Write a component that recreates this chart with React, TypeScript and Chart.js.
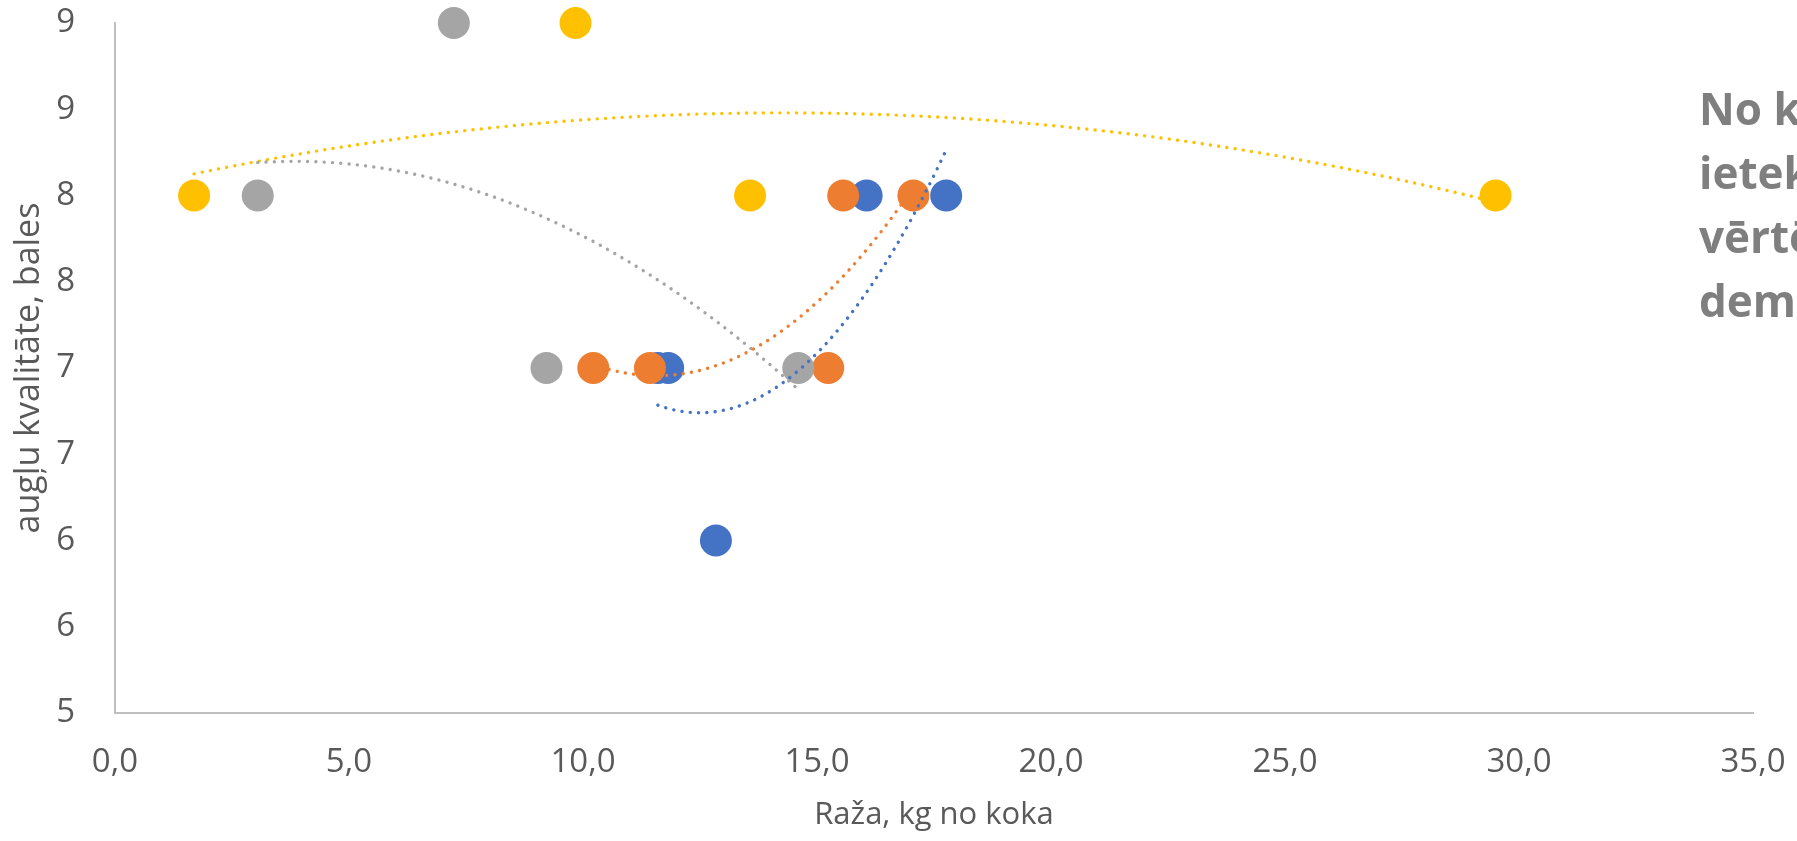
import React, { useEffect, useRef } from "react";
import { Chart, registerables } from "chart.js";

Chart.register(...registerables);

// ---- data ----
const blueX = [11.6, 11.82, 12.84, 16.06, 17.76];
const blueY = [7, 7, 6, 8, 8];
const orangeX = [10.22, 11.43, 15.24, 15.56, 17.06];
const orangeY = [7, 7, 7, 8, 8];
const grayX = [3.05, 7.24, 9.22, 14.6];
const grayY = [8, 9, 7, 7];
const yellowX = [1.69, 9.84, 13.57, 29.5];
const yellowY = [8, 9, 8, 8];

const seriesNames = ["Sērija 1", "Sērija 2", "Sērija 3", "Sērija 4"];
const seriesColors = ["#4472C4", "#ED7D31", "#A5A5A5", "#FFC000"];

const xTitle = "Raža, kg no koka";
const yTitle = "augļu kvalitāte, bales";
const sideLines = ["No k", "ietek", "vērtē", "dem"];

const X_MIN = 0, X_MAX = 35, X_STEP = 5;
const Y_MIN = 5, Y_MAX = 9, Y_STEP = 0.5;

// second order polynomial least squares (Excel-style trend line)
function polyFit2(xs: number[], ys: number[]) {
  let s0 = xs.length, s1 = 0, s2 = 0, s3 = 0, s4 = 0, t0 = 0, t1 = 0, t2 = 0;
  for (let i = 0; i < xs.length; i++) {
    const x = xs[i], y = ys[i];
    s1 += x; s2 += x * x; s3 += x * x * x; s4 += x * x * x * x;
    t0 += y; t1 += x * y; t2 += x * x * y;
  }
  const M = [
    [s0, s1, s2, t0],
    [s1, s2, s3, t1],
    [s2, s3, s4, t2],
  ];
  for (let c = 0; c < 3; c++) {
    let p = c;
    for (let r = c + 1; r < 3; r++) if (Math.abs(M[r][c]) > Math.abs(M[p][c])) p = r;
    [M[c], M[p]] = [M[p], M[c]];
    for (let r = 0; r < 3; r++) {
      if (r === c) continue;
      const f = M[r][c] / M[c][c];
      for (let k = c; k < 4; k++) M[r][k] -= f * M[c][k];
    }
  }
  return [M[0][3] / M[0][0], M[1][3] / M[1][1], M[2][3] / M[2][2]];
}

function trend(xs: number[], ys: number[]) {
  const [a, b, c] = polyFit2(xs, ys);
  const lo = Math.min(...xs), hi = Math.max(...xs);
  const n = 120;
  const pts: { x: number; y: number }[] = [];
  for (let i = 0; i <= n; i++) {
    const x = lo + ((hi - lo) * i) / n;
    pts.push({ x, y: a + b * x + c * x * x });
  }
  return pts;
}

const FONT = "'Open Sans', 'DejaVu Sans', sans-serif";

export default function App() {
  const ref = useRef<HTMLCanvasElement | null>(null);

  useEffect(() => {
    if (!ref.current) return;
    const xsAll = [blueX, orangeX, grayX, yellowX];
    const ysAll = [blueY, orangeY, grayY, yellowY];

    const pointSets = xsAll.map((xs, i) => ({
      type: "scatter" as const,
      label: seriesNames[i],
      data: xs.map((x, j) => ({ x, y: ysAll[i][j] })),
      backgroundColor: seriesColors[i],
      borderWidth: 0,
      pointRadius: 16,
      pointHoverRadius: 16,
      pointBorderWidth: 0,
      order: 4 - i,
      clip: false as const,
    }));

    const trendSets = xsAll.map((xs, i) => ({
      type: "scatter" as const,
      label: seriesNames[i] + " trend",
      data: trend(xs, ysAll[i]),
      showLine: true,
      borderColor: seriesColors[i],
      backgroundColor: seriesColors[i],
      borderWidth: 3.4,
      borderDash: [0.01, 8.3],
      borderCapStyle: "round" as const,
      pointRadius: 0,
      pointHoverRadius: 0,
      tension: 0,
      order: 0,
      clip: false as const,
    }));

    const chart = new Chart(ref.current, {
      type: "scatter",
      data: { datasets: [...trendSets, ...pointSets] as any },
      options: {
        responsive: false,
        animation: false,
        devicePixelRatio: 1,
        events: [],
        layout: { autoPadding: false, padding: { top: 23, right: 44, bottom: 0, left: 0 } },
        plugins: { legend: { display: false }, tooltip: { enabled: false } },
        scales: {
          x: {
            type: "linear",
            min: X_MIN,
            max: X_MAX,
            grid: { display: false, drawTicks: false },
            border: { display: true, color: "#bfbfbf", width: 2 },
            ticks: {
              stepSize: X_STEP,
              color: "#595959",
              font: { family: FONT, size: 33 },
              padding: 30,
              maxRotation: 0,
              callback: (v: any) => Number(v).toFixed(1).replace(".", ","),
            },
            title: {
              display: true,
              text: xTitle,
              color: "#595959",
              font: { family: FONT, size: 31 },
              padding: { top: 0, bottom: 7 },
            },
            afterFit: (s: any) => {
              s.height = 128;
              s.paddingLeft = 0;
              s.paddingRight = 0;
            },
          },
          y: {
            type: "linear",
            min: Y_MIN,
            max: Y_MAX,
            grid: { display: false, drawTicks: false },
            border: { display: true, color: "#bfbfbf", width: 2 },
            ticks: {
              stepSize: Y_STEP,
              color: "#595959",
              font: { family: FONT, size: 33 },
              padding: 40,
              callback: (v: any) => String(Math.round(Number(v))),
            },
            title: {
              display: true,
              text: yTitle,
              color: "#595959",
              font: { family: FONT, size: 34 },
              padding: { top: 9, bottom: 0 },
            },
            afterFit: (s: any) => {
              s.width = 115;
              s.paddingTop = 0;
              s.paddingBottom = 0;
            },
          },
        },
      } as any,
    });
    return () => chart.destroy();
  }, []);

  return (
    <div
      style={{
        position: "fixed",
        left: 0,
        top: 0,
        width: 1797,
        height: 841,
        overflow: "hidden",
        background: "#ffffff",
      }}
    >
      <canvas ref={ref} width={1797} height={841} style={{ display: "block", width: 1797, height: 841 }} />
      <div
        style={{
          position: "absolute",
          left: 1699,
          top: 76,
          whiteSpace: "nowrap",
          fontFamily: FONT,
          fontWeight: 700,
          fontSize: 44,
          lineHeight: "64px",
          color: "#7f7f7f",
        }}
      >
        {sideLines.map((t, i) => (
          <div key={i}>{t}</div>
        ))}
      </div>
    </div>
  );
}
